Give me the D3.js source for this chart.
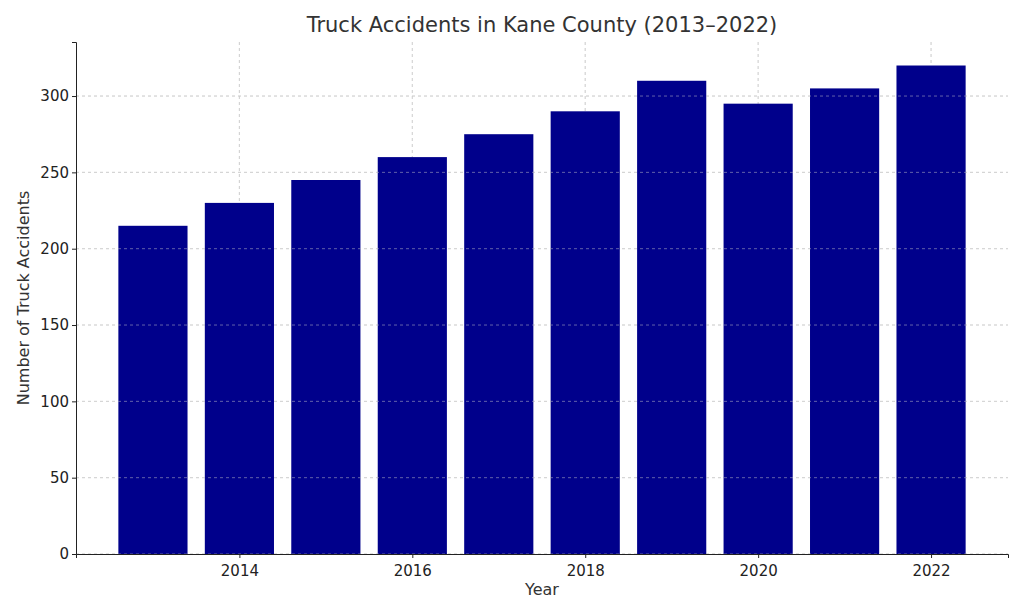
<!DOCTYPE html>
<html><head><meta charset="utf-8">
<script src="https://cdn.jsdelivr.net/npm/d3@7"></script>
<style>body{margin:0;background:#fff;font-family:"DejaVu Sans",sans-serif;}</style>
</head><body><svg id="c" width="1024" height="614"></svg>
<script>
const years=[2013,2014,2015,2016,2017,2018,2019,2020,2021,2022];
const accidents=[215,230,245,260,275,290,310,295,305,320];
const xTicks=[2014,2016,2018,2020,2022];
const yTicks=[0,50,100,150,200,250,300];
const svg=d3.select("#c");
const L=76,R=1008,T=42,B=554;
const x=d3.scaleLinear().domain([2012.11,2022.89]).range([L,R]);
const y=d3.scaleLinear().domain([0,335.4]).range([B,T]);
const bw=x(2013.8)-x(2013);
const g=svg.append("g");
g.selectAll(".gx").data(xTicks).enter().append("line").attr("x1",d=>x(d)).attr("x2",d=>x(d)).attr("y1",T).attr("y2",B).attr("stroke","#ccc").attr("stroke-dasharray","3,3").attr("stroke-width",0.8);
g.selectAll(".gy").data(yTicks).enter().append("line").attr("x1",L).attr("x2",R).attr("y1",d=>y(d)).attr("y2",d=>y(d)).attr("stroke","#ccc").attr("stroke-dasharray","3,3").attr("stroke-width",0.8);
svg.append("g").selectAll("rect").data(years).enter().append("rect")
 .attr("x",d=>x(d)-bw/2).attr("width",bw).attr("y",(d,i)=>y(accidents[i])).attr("height",(d,i)=>B-y(accidents[i])).attr("fill","#00008b");
g.selectAll(".gx2").data(xTicks).enter().append("line").attr("x1",d=>x(d)).attr("x2",d=>x(d)).attr("y1",T).attr("y2",B).attr("stroke","#ccc").attr("stroke-opacity",0.6).attr("stroke-dasharray","3,3").attr("stroke-width",0.8);
svg.append("g").selectAll(".gy2").data(yTicks).enter().append("line").attr("x1",L).attr("x2",R).attr("y1",d=>y(d)).attr("y2",d=>y(d)).attr("stroke","#ccc").attr("stroke-opacity",0.6).attr("stroke-dasharray","3,3").attr("stroke-width",0.8);
const xa=svg.append("g").attr("transform",`translate(0,${B})`).call(d3.axisBottom(x).tickValues(xTicks).tickFormat(d3.format("d")).tickSizeOuter(0).tickSize(4));
const ya=svg.append("g").attr("transform",`translate(${L},0)`).call(d3.axisLeft(y).tickValues(yTicks).tickSizeOuter(0).tickSize(4));
[xa,ya].forEach(a=>{a.selectAll("text").attr("font-size",15).attr("fill","#222").attr("font-family","DejaVu Sans");a.select(".domain").attr("stroke","#222");a.selectAll(".tick line").attr("stroke","#222");});
xa.selectAll("text").attr("dy","1.0em");
svg.append("text").attr("x",(L+R)/2).attr("y",32).attr("text-anchor","middle").attr("font-size",21).attr("fill","#333").text("Truck Accidents in Kane County (2013–2022)");
svg.append("text").attr("x",(L+R)/2).attr("y",595).attr("text-anchor","middle").attr("font-size",16).attr("fill","#333").text("Year");
svg.append("text").attr("transform",`translate(29,${(T+B)/2}) rotate(-90)`).attr("text-anchor","middle").attr("font-size",16).attr("fill","#333").text("Number of Truck Accidents");
</script></body></html>
